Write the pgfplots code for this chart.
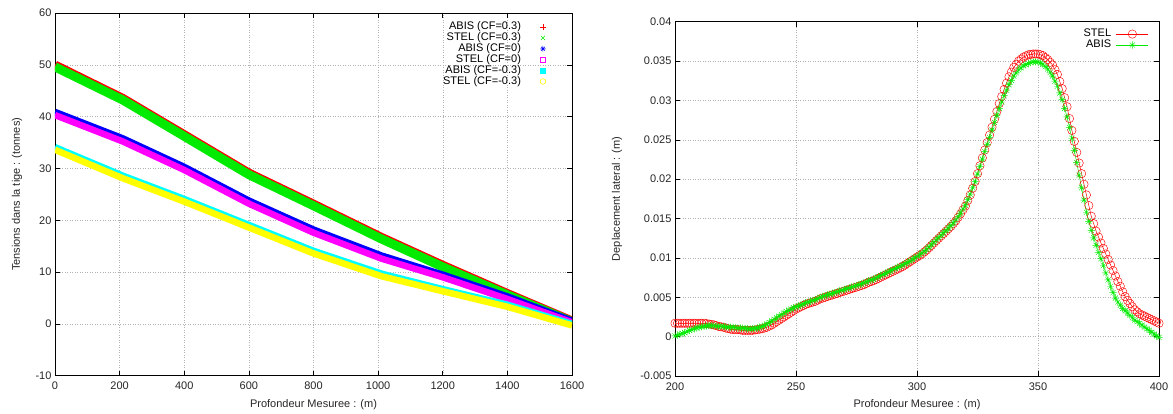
\documentclass[border=0pt]{standalone}
\usepackage{fontspec}
\setmainfont{Liberation Sans}
\usepackage{pgfplots}
\pgfplotsset{compat=1.18}
\usetikzlibrary{plotmarks}

\pgfdeclareplotmark{gpstar}{%
  \pgfpathmoveto{\pgfqpoint{-\pgfplotmarksize}{0pt}}%
  \pgfpathlineto{\pgfqpoint{\pgfplotmarksize}{0pt}}%
  \pgfpathmoveto{\pgfqpoint{0pt}{-\pgfplotmarksize}}%
  \pgfpathlineto{\pgfqpoint{0pt}{\pgfplotmarksize}}%
  \pgfpathmoveto{\pgfqpoint{-.707\pgfplotmarksize}{-.707\pgfplotmarksize}}%
  \pgfpathlineto{\pgfqpoint{.707\pgfplotmarksize}{.707\pgfplotmarksize}}%
  \pgfpathmoveto{\pgfqpoint{-.707\pgfplotmarksize}{.707\pgfplotmarksize}}%
  \pgfpathlineto{\pgfqpoint{.707\pgfplotmarksize}{-.707\pgfplotmarksize}}%
  \pgfusepathqstroke}
\pgfdeclareplotmark{gpplus}{%
  \pgfpathmoveto{\pgfqpoint{-\pgfplotmarksize}{0pt}}%
  \pgfpathlineto{\pgfqpoint{\pgfplotmarksize}{0pt}}%
  \pgfpathmoveto{\pgfqpoint{0pt}{-\pgfplotmarksize}}%
  \pgfpathlineto{\pgfqpoint{0pt}{\pgfplotmarksize}}%
  \pgfusepathqstroke}

\definecolor{gpred}{rgb}{1,0,0}
\definecolor{gpgreen}{rgb}{0,0.92,0}
\definecolor{gpblue}{rgb}{0,0,1}
\definecolor{gpmag}{rgb}{1,0,1}
\definecolor{gpcyan}{rgb}{0,1,1}
\definecolor{gpyel}{rgb}{1,1,0}

\newcommand{\gpfont}{\fontsize{11}{13}\selectfont}

\pgfplotsset{
  gp/.style={
    scale only axis,
    axis line style={line width=0.8pt},
    grid=major,
    major grid style={gray!60, line width=0.5pt, dash pattern=on 1pt off 1.5pt},
    tick align=inside,
    major tick length=5pt,
    tick style={black, line width=0.6pt},
    tick label style={font=\gpfont, text=black!85},
    xticklabel style={yshift=-3pt},
    label style={font=\gpfont, text=black!85},
    scaled x ticks=false, scaled y ticks=false,
    legend style={draw=none, fill=none, font=\gpfont, inner sep=0pt,
      nodes={font=\gpfont, inner sep=0pt, text height=8.2pt, text depth=2.7pt},
      row sep=0pt, column sep=5pt},
    legend cell align=right,
    legend plot pos=right,
  }
}

\pgfplotstableread{
x    a03   s03  a0   s0   am03 sm03
0    49.95 49.6 40.9 40.3 34.1 33.6
210  43.5  43.2 35.8 35.2 28.6 28.1
400  36.5  36.2 30.3 29.7 24.1 23.6
600  29.1  28.8 23.8 23.2 19.1 18.6
800  23.1  22.8 18.2 17.6 14.1 13.6
1010 16.7  16.4 13.2 12.6  9.7  9.2
1200 11.3  11.0  9.5  9.0  6.7  6.3
1400  5.85  5.6  5.3  4.8  3.7  3.3
1600  0.55  0.4  0.6  0.3  0.0 -0.3
}\lefttab

\pgfplotstableread{
x    stel     abis
200  0.0017   0.0001
201  0.0017   0.0002
202  0.0017   0.0003
203  0.0017   0.0004
204  0.0017   0.0005
205  0.0017   0.00065
206  0.0017   0.0008
207  0.0017   0.0009
208  0.0017   0.0010
209  0.0017   0.0011
210  0.0017   0.0012
211  0.0017   0.00125
212  0.0017   0.0013
213  0.00165  0.00135
214  0.0016   0.0014
215  0.00155  0.0014
216  0.0015   0.0014
217  0.0014   0.00135
218  0.0013   0.0013
219  0.00125  0.0013
220  0.0012   0.0013
221  0.0011   0.00125
222  0.0010   0.0012
223  0.00095  0.0012
224  0.0009   0.0012
225  0.0009   0.00115
226  0.0009   0.0011
227  0.00085  0.0011
228  0.0008   0.0011
229  0.0008   0.00105
230  0.0008   0.0010
231  0.0008   0.0010
232  0.0008   0.0010
233  0.00085  0.00105
234  0.0009   0.0011
235  0.00095  0.0012
236  0.0010   0.0013
237  0.0011   0.00145
238  0.0012   0.0016
239  0.00135  0.0018
240  0.0015   0.0020
241  0.0017   0.0022
242  0.0019   0.0024
243  0.0021   0.0026
244  0.0023   0.0028
245  0.0025   0.0030
246  0.0027   0.0032
247  0.0029   0.00335
248  0.0031   0.0035
249  0.0033   0.00365
250  0.0035   0.0038
251  0.00365  0.0039
252  0.0038   0.0040
253  0.00395  0.00415
254  0.0041   0.0043
255  0.0042   0.0044
256  0.0043   0.0045
257  0.0044   0.0046
258  0.0045   0.0047
259  0.00465  0.00485
260  0.0048   0.0050
261  0.0049   0.0051
262  0.0050   0.0052
263  0.0051   0.0053
264  0.0052   0.0054
265  0.0053   0.0055
266  0.0054   0.0056
267  0.0055   0.0057
268  0.0056   0.0058
269  0.0057   0.0059
270  0.0058   0.0060
271  0.0059   0.0061
272  0.0060   0.0062
273  0.0061   0.0063
274  0.0062   0.0064
275  0.0063   0.0065
276  0.0064   0.0066
277  0.0065   0.0067
278  0.0066   0.0068
279  0.00675  0.00695
280  0.0069   0.0071
281  0.0070   0.0072
282  0.0071   0.0073
283  0.00725  0.00745
284  0.0074   0.0076
285  0.00755  0.00775
286  0.0077   0.0079
287  0.00785  0.00805
288  0.0080   0.0082
289  0.00815  0.00835
290  0.0083   0.0085
291  0.00845  0.00865
292  0.0086   0.0088
293  0.00875  0.00895
294  0.0089   0.0091
295  0.0091   0.00925
296  0.0093   0.0094
297  0.0095   0.0096
298  0.0097   0.0098
299  0.0099   0.0100
300  0.0101   0.0102
301  0.0103   0.0104
302  0.0105   0.0106
303  0.01075  0.01085
304  0.0110   0.0111
305  0.0113   0.0114
306  0.0116   0.0117
307  0.0119   0.0120
308  0.0122   0.0123
309  0.0125   0.0126
310  0.0128   0.0129
311  0.0131   0.0132
312  0.0134   0.0135
313  0.0137   0.0138
314  0.0140   0.0141
315  0.01435  0.01445
316  0.0147   0.0148
317  0.01515  0.01525
318  0.0156   0.0157
319  0.0161   0.0162
320  0.0166   0.0167
321  0.0173   0.0174
322  0.0180   0.0181
323  0.01885  0.0189
324  0.0197   0.0197
325  0.0207   0.02065
326  0.0217   0.0216
327  0.0227   0.02255
328  0.0237   0.0235
329  0.02465  0.0244
330  0.0256   0.0253
331  0.0266   0.02625
332  0.0276   0.0272
333  0.0286   0.0281
334  0.0296   0.0290
335  0.0305   0.0298
336  0.0314   0.0306
337  0.0322   0.0313
338  0.0330   0.0320
339  0.0336   0.03255
340  0.0342   0.0331
341  0.0346   0.0335
342  0.0350   0.0339
343  0.03525  0.03415
344  0.0355   0.0344
345  0.03565  0.03455
346  0.0358   0.0347
347  0.03585  0.0348
348  0.0359   0.0349
349  0.0359   0.0349
350  0.0359   0.0349
351  0.0358   0.03475
352  0.0357   0.0346
353  0.03545  0.0343
354  0.0352   0.0340
355  0.03485  0.03355
356  0.0345   0.0331
357  0.0339   0.03245
358  0.0333   0.0318
359  0.0324   0.03095
360  0.0315   0.0301
361  0.03035  0.0290
362  0.0292   0.0279
363  0.0277   0.02655
364  0.0262   0.0252
365  0.0248   0.02365
366  0.0234   0.0221
367  0.02205  0.0205
368  0.0207   0.0189
369  0.01935  0.01735
370  0.0180   0.0158
371  0.01665  0.01465
372  0.0153   0.0135
373  0.01435  0.01255
374  0.0134   0.0116
375  0.01265  0.0107
376  0.0119   0.0099
377  0.0112   0.0090
378  0.0105   0.0081
379  0.0098   0.0072
380  0.0091   0.0064
381  0.0084   0.0056
382  0.0077   0.0049
383  0.0070   0.0044
384  0.0064   0.0040
385  0.0057   0.0036
386  0.0051   0.0033
387  0.0046   0.0030
388  0.0042   0.0027
389  0.0038   0.0024
390  0.0034   0.0021
391  0.00315  0.0019
392  0.0029   0.0017
393  0.00275  0.00145
394  0.0026   0.0012
395  0.00245  0.0010
396  0.0023   0.0008
397  0.00215  0.00055
398  0.0020   0.0003
399  0.00185  0.0001
400  0.0017  -0.0001
}\righttab

\begin{document}
\begin{tikzpicture}[x=1pt,y=1pt]
\useasboundingbox (0,0) rectangle (1173,413);

% ---------------- left axis ----------------
\begin{axis}[gp,
  at={(55pt,37.3pt)}, anchor=south west,
  width=517pt, height=362.7pt,
  xmin=0, xmax=1600, ymin=-10, ymax=60,
  xtick={0,200,400,600,800,1000,1200,1400,1600},
  xticklabels={0,200,400,600,800,1000,1200,1400,1600},
  ytick={-10,0,10,20,30,40,50,60},
  yticklabels={-10,0,10,20,30,40,50,60},
  xlabel={Profondeur Mesuree : (m)},
  ylabel={Tensions dans la tige : (tonnes)},
  xlabel style={at={(axis description cs:0.5,-0.081)}, anchor=center},
  ylabel style={at={(axis description cs:-0.0735,0.5)}, anchor=center},
  legend style={at={(axis description cs:0.95,0.977)}, anchor=north east},
  legend image code/.code={\path[draw=none,fill=none] (0pt,-4pt) rectangle (20pt,4pt); \draw[#1] plot coordinates {(17pt,0pt)};},
]
\addplot[forget plot, gpred, line width=9pt, line join=round] table[x=x,y=a03]{\lefttab};
\addplot[forget plot, gpgreen, line width=9pt, line join=round] table[x=x,y=s03]{\lefttab};
\addplot[forget plot, gpblue, line width=6.5pt, line join=round] table[x=x,y=a0]{\lefttab};
\addplot[forget plot, gpmag, line width=6.5pt, line join=round] table[x=x,y=s0]{\lefttab};
\addplot[forget plot, gpcyan, line width=6.5pt, line join=round] table[x=x,y=am03]{\lefttab};
\addplot[forget plot, gpyel, line width=6.5pt, line join=round] table[x=x,y=sm03]{\lefttab};
\addlegendimage{only marks, mark=gpplus, red, mark size=3pt, mark options={solid, draw=red, line width=0.7pt}}
\addlegendentry{ABIS (CF=0.3)}
\addlegendimage{only marks, mark=x, color=gpgreen, mark size=2.8pt, mark options={draw=gpgreen, line width=0.5pt}}
\addlegendentry{STEL (CF=0.3)}
\addlegendimage{only marks, mark=gpstar, color=gpblue, mark size=2.8pt, mark options={draw=gpblue, line width=0.5pt}}
\addlegendentry{ABIS (CF=0)}
\addlegendimage{only marks, mark=square, color=gpmag, mark size=2.5pt, mark options={draw=gpmag, line width=0.6pt}}
\addlegendentry{STEL (CF=0)}
\addlegendimage{only marks, mark=square*, color=gpcyan, mark size=2.5pt, mark options={draw=gpcyan, fill=gpcyan}}
\addlegendentry{ABIS (CF=-0.3)}
\addlegendimage{only marks, mark=o, color=gpyel, mark size=2.8pt, mark options={draw=gpyel, line width=0.6pt}}
\addlegendentry{STEL (CF=-0.3)}
\end{axis}

% ---------------- right axis ----------------
\begin{axis}[gp,
  at={(675pt,37pt)}, anchor=south west,
  width=484pt, height=354.3pt,
  xmin=200, xmax=400, ymin=-0.005, ymax=0.04,
  xtick={200,250,300,350,400},
  xticklabels={200,250,300,350,400},
  ytick={-0.005,0,0.005,0.01,0.015,0.02,0.025,0.03,0.035,0.04},
  yticklabels={-0.005,0,0.005,0.01,0.015,0.02,0.025,0.03,0.035,0.04},
  xlabel={Profondeur Mesuree : (m)},
  ylabel={Deplacement lateral : (m)},
  xlabel style={at={(axis description cs:0.5,-0.082)}, anchor=center},
  ylabel style={at={(axis description cs:-0.12,0.5)}, anchor=center},
  legend style={at={(axis description cs:0.979,0.981)}, anchor=north east},
  legend image code/.code={\draw[mark repeat=2,mark phase=2,#1] plot coordinates {(0pt,0pt) (16pt,0pt) (32pt,0pt)};},
]
\addplot[gpred, line width=0.5pt, mark=o, mark size=4.2pt, mark options={line width=0.45pt}] table[x=x,y=stel]{\righttab};
\addlegendentry{STEL}
\addplot[gpgreen, line width=0.5pt, mark=gpstar, mark size=3.6pt, mark options={line width=0.45pt}] table[x=x,y=abis]{\righttab};
\addlegendentry{ABIS}
\end{axis}
\end{tikzpicture}
\end{document}
